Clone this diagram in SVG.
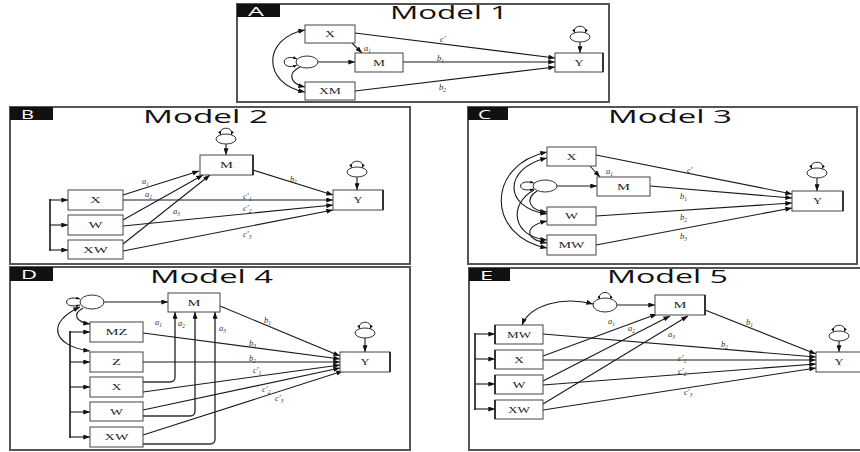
<svg xmlns="http://www.w3.org/2000/svg" width="860" height="452" viewBox="0 0 860 452">
<defs>
<marker id="ah" viewBox="0 0 8 6" refX="8" refY="3" markerWidth="7" markerHeight="5" orient="auto-start-reverse" markerUnits="userSpaceOnUse"><path d="M0,0L8,3L0,6z" fill="#111"/></marker>
<marker id="as" viewBox="0 0 8 6" refX="8" refY="3" markerWidth="4" markerHeight="3" orient="auto-start-reverse" markerUnits="userSpaceOnUse"><path d="M0,0L8,3L0,6z" fill="#111"/></marker>
<style>
.frame{fill:#fff;stroke:#555;stroke-width:2}
.tag{fill:#111}
.tagt{font-family:"Open Sans","Liberation Sans",sans-serif;font-size:13px;fill:#fff}
.title{font-family:"Open Sans","Liberation Sans",sans-serif;font-size:18px;fill:#111}
.bx{fill:#fff;stroke:#444;stroke-width:1}
.edge{stroke:#333;stroke-width:2}
.nm{font-family:"Liberation Serif","DejaVu Serif",serif;font-size:9px;fill:#222;text-anchor:middle}
.pl{font-family:"Liberation Serif","DejaVu Serif",serif;font-style:italic;font-size:8.5px;fill:#333}
.sb{font-size:5.5px}
.ln{fill:none;stroke:#222;stroke-width:1}
.ar{fill:none;stroke:#1a1a1a;stroke-width:1.1;marker-end:url(#ah)}
.dar{fill:none;stroke:#1a1a1a;stroke-width:1.1;marker-start:url(#ah);marker-end:url(#ah)}
.lp{fill:none;stroke:#222;stroke-width:1;marker-start:url(#as);marker-end:url(#as)}
.brk{fill:none;stroke:#444;stroke-width:2}
.ell{fill:#fff;stroke:#333;stroke-width:1}
.va{fill:none;stroke:#333;stroke-width:1.4;marker-end:url(#ah)}
</style>
</defs>
<rect width="860" height="452" fill="#fff"/>

<!-- Panel frames -->
<rect class="frame" x="237" y="4" width="372" height="98"/>
<rect class="frame" x="10" y="107" width="400" height="157"/>
<rect class="frame" x="468" y="107" width="389" height="157"/>
<rect class="frame" x="10" y="267" width="400" height="183"/>
<rect class="frame" x="469" y="268" width="400" height="182"/>

<rect class="tag" x="237" y="4" width="43" height="13"/><text class="tagt" x="248" y="15.5" textLength="16" lengthAdjust="spacingAndGlyphs">A</text>
<rect class="tag" x="10" y="107" width="43" height="13"/><text class="tagt" x="21" y="118.5" textLength="13" lengthAdjust="spacingAndGlyphs">B</text>
<rect class="tag" x="468" y="107" width="40" height="13"/><text class="tagt" x="478" y="118.5" textLength="13" lengthAdjust="spacingAndGlyphs">C</text>
<rect class="tag" x="10" y="267" width="43" height="14"/><text class="tagt" x="21" y="279" textLength="16" lengthAdjust="spacingAndGlyphs">D</text>
<rect class="tag" x="469" y="268" width="41" height="13"/><text class="tagt" x="480" y="279.5" textLength="13" lengthAdjust="spacingAndGlyphs">E</text>

<text class="title" x="390" y="19" textLength="118" lengthAdjust="spacingAndGlyphs">Model 1</text>
<text class="title" x="143" y="123" textLength="125" lengthAdjust="spacingAndGlyphs">Model 2</text>
<text class="title" x="608" y="123" textLength="124" lengthAdjust="spacingAndGlyphs">Model 3</text>
<text class="title" x="150" y="283" textLength="123" lengthAdjust="spacingAndGlyphs">Model 4</text>
<text class="title" x="607" y="283" textLength="121" lengthAdjust="spacingAndGlyphs">Model 5</text>

<!-- Connectors -->
<g id="connectors">
<!-- A -->
<path class="ar" d="M352,43L362,53"/>
<path class="ar" d="M318,62L355,62"/>
<path class="ar" d="M355,33L555,58"/>
<path class="ar" d="M403,62L555,62"/>
<path class="ar" d="M355,91L555,67"/>
<path class="dar" d="M305,30C262,38 262,84 305,92"/>
<path class="ar" d="M300,67C286,74 291,84 305,87"/>
<path class="lp" d="M297,59C280,52 280,72 297,65"/>
<path class="lp" d="M575,33C571,24 589,24 585,33"/>
<path class="ar" d="M580,42L580,53"/>
<!-- B -->
<path class="brk" d="M50,199L50,251"/>
<path class="ar" d="M50,200L68,200"/>
<path class="ar" d="M50,225L68,225"/>
<path class="ar" d="M50,250L68,250"/>
<path class="ar" d="M123,195L199,171"/>
<path class="ar" d="M123,220L203,175"/>
<path class="ar" d="M123,244L210,175"/>
<path class="ar" d="M253,170L333,195"/>
<path class="ar" d="M123,200L333,200"/>
<path class="ar" d="M123,226L333,205"/>
<path class="ar" d="M123,251L333,210"/>
<path class="lp" d="M221,135C217,126 235,126 231,135"/>
<path class="ar" d="M226,144L226,155"/>
<path class="lp" d="M352,168C348,159 366,159 362,168"/>
<path class="ar" d="M357,177L357,190"/>
<!-- C -->
<path class="ar" d="M590,166L600,177"/>
<path class="ar" d="M557,186L597,186"/>
<path class="ar" d="M596,155L792,194"/>
<path class="ar" d="M650,186L792,198"/>
<path class="ar" d="M596,216L792,203"/>
<path class="ar" d="M596,245L792,208"/>
<path class="dar" d="M547,152C486,165 486,236 547,248"/>
<path class="dar" d="M547,158C503,168 503,208 547,214"/>
<path class="dar" d="M547,221C524,226 524,239 547,243"/>
<path class="ar" d="M537,191C524,199 530,211 547,212"/>
<path class="ar" d="M534,190C508,204 512,237 547,240"/>
<path class="lp" d="M534,183C516,178 516,194 534,189"/>
<path class="lp" d="M812,169C808,160 826,160 822,169"/>
<path class="ar" d="M817,178L817,191"/>
<!-- D -->
<path class="brk" d="M70,331L70,438"/>
<path class="ar" d="M70,332L90,332"/>
<path class="ar" d="M70,362L90,362"/>
<path class="ar" d="M70,387L90,387"/>
<path class="ar" d="M70,412L90,412"/>
<path class="ar" d="M70,437L90,437"/>
<path class="ar" d="M104,302L168,302"/>
<path class="va" d="M143,382L170,382Q175,382 175,377L175,312"/>
<path class="va" d="M143,416L190,416Q195,416 195,411L195,312"/>
<path class="va" d="M143,444L210,444Q215,444 215,439L215,312"/>
<path class="ar" d="M220,306L340,356"/>
<path class="ar" d="M143,333L340,359"/>
<path class="ar" d="M143,362L340,362"/>
<path class="ar" d="M143,392L340,365"/>
<path class="ar" d="M143,410L340,368"/>
<path class="ar" d="M143,435L343,371"/>
<path class="ar" d="M83,308C71,315 77,322 90,324"/>
<path class="dar" d="M80,307C46,322 52,346 90,351"/>
<path class="lp" d="M80,299C62,294 62,310 80,305"/>
<path class="lp" d="M360,329C356,320 374,320 370,329"/>
<path class="ar" d="M365,338L365,352"/>
<!-- E -->
<path class="brk" d="M475,333L475,410"/>
<path class="ar" d="M475,334L495,334"/>
<path class="ar" d="M475,359L495,359"/>
<path class="ar" d="M475,384L495,384"/>
<path class="ar" d="M475,409L495,409"/>
<path class="ar" d="M617,305L655,305"/>
<path class="dar" d="M593,304C562,296 530,305 522,325"/>
<path class="ar" d="M543,356L657,314"/>
<path class="ar" d="M543,381L670,316"/>
<path class="ar" d="M543,404L688,316"/>
<path class="ar" d="M705,310L816,354"/>
<path class="ar" d="M543,334L816,357"/>
<path class="ar" d="M543,360L816,360"/>
<path class="ar" d="M543,385L816,364"/>
<path class="ar" d="M543,410L816,368"/>
<path class="lp" d="M600,300C596,290 614,290 610,300"/>
<path class="lp" d="M834,332C830,323 848,323 844,332"/>
<path class="ar" d="M839,341L839,352"/>
</g>

<!-- Path labels -->
<g id="labels">
<text class="pl" x="364" y="51">a<tspan class="sb" dy="2">1</tspan></text>
<text class="pl" x="440" y="42">c′</text>
<text class="pl" x="437" y="61">b<tspan class="sb" dy="2">1</tspan></text>
<text class="pl" x="439" y="90">b<tspan class="sb" dy="2">2</tspan></text>

<text class="pl" x="142" y="184">a<tspan class="sb" dy="2">1</tspan></text>
<text class="pl" x="145" y="197">a<tspan class="sb" dy="2">2</tspan></text>
<text class="pl" x="173" y="214">a<tspan class="sb" dy="2">3</tspan></text>
<text class="pl" x="290" y="182">b<tspan class="sb" dy="2">1</tspan></text>
<text class="pl" x="243" y="199">c′<tspan class="sb" dy="2">1</tspan></text>
<text class="pl" x="243" y="211">c′<tspan class="sb" dy="2">2</tspan></text>
<text class="pl" x="243" y="237">c′<tspan class="sb" dy="2">3</tspan></text>

<text class="pl" x="606" y="174">a<tspan class="sb" dy="2">1</tspan></text>
<text class="pl" x="687" y="173">c′</text>
<text class="pl" x="680" y="199">b<tspan class="sb" dy="2">1</tspan></text>
<text class="pl" x="680" y="220">b<tspan class="sb" dy="2">2</tspan></text>
<text class="pl" x="680" y="239">b<tspan class="sb" dy="2">3</tspan></text>

<text class="pl" x="155" y="325">a<tspan class="sb" dy="2">1</tspan></text>
<text class="pl" x="178" y="326">a<tspan class="sb" dy="2">2</tspan></text>
<text class="pl" x="219" y="331">a<tspan class="sb" dy="2">3</tspan></text>
<text class="pl" x="264" y="323">b<tspan class="sb" dy="2">1</tspan></text>
<text class="pl" x="249" y="346">b<tspan class="sb" dy="2">3</tspan></text>
<text class="pl" x="249" y="361">b<tspan class="sb" dy="2">2</tspan></text>
<text class="pl" x="253" y="373">c′<tspan class="sb" dy="2">1</tspan></text>
<text class="pl" x="262" y="392">c′<tspan class="sb" dy="2">2</tspan></text>
<text class="pl" x="275" y="401">c′<tspan class="sb" dy="2">3</tspan></text>

<text class="pl" x="608" y="324">a<tspan class="sb" dy="2">1</tspan></text>
<text class="pl" x="628" y="331">a<tspan class="sb" dy="2">2</tspan></text>
<text class="pl" x="668" y="337">a<tspan class="sb" dy="2">3</tspan></text>
<text class="pl" x="746" y="325">b<tspan class="sb" dy="2">1</tspan></text>
<text class="pl" x="721" y="347">b<tspan class="sb" dy="2">2</tspan></text>
<text class="pl" x="678" y="361">c′<tspan class="sb" dy="2">1</tspan></text>
<text class="pl" x="678" y="374">c′<tspan class="sb" dy="2">2</tspan></text>
<text class="pl" x="684" y="395">c′<tspan class="sb" dy="2">3</tspan></text>
</g>

<!-- Panel A nodes -->
<g id="A_X"><rect class="bx" x="305" y="25" width="50" height="18"/><text class="nm" x="330" y="37" textLength="10" lengthAdjust="spacingAndGlyphs">X</text></g>
<g id="A_M"><rect class="bx" x="355" y="53" width="48" height="19"/><text class="nm" x="379" y="65.5" textLength="12" lengthAdjust="spacingAndGlyphs">M</text></g>
<g id="A_XM"><rect class="bx" x="305" y="82" width="50" height="18"/><text class="nm" x="330" y="94" textLength="22" lengthAdjust="spacingAndGlyphs">XM</text></g>
<g id="A_Y"><rect class="bx" x="555" y="53" width="48" height="19"/><line class="edge" x1="603" y1="53" x2="603" y2="72"/><text class="nm" x="579" y="65.5" textLength="9" lengthAdjust="spacingAndGlyphs">Y</text></g>
<g id="A_E"><ellipse class="ell" cx="307" cy="62" rx="11" ry="6"/></g>
<g id="A_Ye"><ellipse class="ell" cx="580" cy="37" rx="10" ry="5"/></g>

<!-- Panel B nodes -->
<g id="B_X"><rect class="bx" x="68" y="190" width="55" height="20"/><text class="nm" x="95.5" y="203" textLength="11" lengthAdjust="spacingAndGlyphs">X</text></g>
<g id="B_W"><rect class="bx" x="68" y="215" width="55" height="20"/><text class="nm" x="95.5" y="228" textLength="14" lengthAdjust="spacingAndGlyphs">W</text></g>
<g id="B_XW"><rect class="bx" x="68" y="240" width="55" height="19"/><text class="nm" x="95.5" y="252.5" textLength="25" lengthAdjust="spacingAndGlyphs">XW</text></g>
<g id="B_M"><rect class="bx" x="200" y="155" width="53" height="20"/><line class="edge" x1="253" y1="155" x2="253" y2="175"/><text class="nm" x="226.5" y="168" textLength="13" lengthAdjust="spacingAndGlyphs">M</text></g>
<g id="B_Y"><rect class="bx" x="333" y="190" width="50" height="20"/><line class="edge" x1="383" y1="190" x2="383" y2="210"/><text class="nm" x="358" y="203" textLength="9" lengthAdjust="spacingAndGlyphs">Y</text></g>
<g id="B_Me"><ellipse class="ell" cx="226" cy="139" rx="10" ry="5"/></g>
<g id="B_Ye"><ellipse class="ell" cx="357" cy="172" rx="10" ry="5"/></g>

<!-- Panel C nodes -->
<g id="C_X"><rect class="bx" x="547" y="147" width="49" height="19"/><text class="nm" x="571.5" y="159.5" textLength="10" lengthAdjust="spacingAndGlyphs">X</text></g>
<g id="C_M"><rect class="bx" x="597" y="177" width="53" height="19"/><text class="nm" x="623.5" y="189.5" textLength="13" lengthAdjust="spacingAndGlyphs">M</text></g>
<g id="C_W"><rect class="bx" x="547" y="207" width="49" height="18"/><text class="nm" x="571.5" y="219" textLength="13" lengthAdjust="spacingAndGlyphs">W</text></g>
<g id="C_MW"><rect class="bx" x="547" y="235" width="49" height="20"/><text class="nm" x="571.5" y="248" textLength="26" lengthAdjust="spacingAndGlyphs">MW</text></g>
<g id="C_Y"><rect class="bx" x="792" y="191" width="51" height="20"/><line class="edge" x1="843" y1="191" x2="843" y2="211"/><text class="nm" x="817.5" y="204" textLength="9" lengthAdjust="spacingAndGlyphs">Y</text></g>
<g id="C_E"><ellipse class="ell" cx="545" cy="186" rx="12" ry="6"/></g>
<g id="C_Ye"><ellipse class="ell" cx="817" cy="173" rx="10" ry="5"/></g>

<!-- Panel D nodes -->
<g id="D_M"><rect class="bx" x="168" y="293" width="52" height="19"/><text class="nm" x="194" y="305.5" textLength="13" lengthAdjust="spacingAndGlyphs">M</text></g>
<g id="D_MZ"><rect class="bx" x="90" y="322" width="53" height="20"/><text class="nm" x="116.5" y="335" textLength="22" lengthAdjust="spacingAndGlyphs">MZ</text></g>
<g id="D_Z"><rect class="bx" x="90" y="352" width="53" height="20"/><text class="nm" x="116.5" y="365" textLength="9" lengthAdjust="spacingAndGlyphs">Z</text></g>
<g id="D_X"><rect class="bx" x="90" y="377" width="53" height="20"/><text class="nm" x="116.5" y="390" textLength="10" lengthAdjust="spacingAndGlyphs">X</text></g>
<g id="D_W"><rect class="bx" x="90" y="402" width="53" height="19"/><text class="nm" x="116.5" y="414.5" textLength="13" lengthAdjust="spacingAndGlyphs">W</text></g>
<g id="D_XW"><rect class="bx" x="90" y="427" width="53" height="20"/><text class="nm" x="116.5" y="440" textLength="24" lengthAdjust="spacingAndGlyphs">XW</text></g>
<g id="D_Y"><rect class="bx" x="340" y="352" width="50" height="20"/><line class="edge" x1="390" y1="352" x2="390" y2="372"/><text class="nm" x="365" y="365" textLength="9" lengthAdjust="spacingAndGlyphs">Y</text></g>
<g id="D_E"><ellipse class="ell" cx="92" cy="302" rx="12" ry="7"/></g>
<g id="D_Ye"><ellipse class="ell" cx="365" cy="333" rx="10" ry="5"/></g>

<!-- Panel E nodes -->
<g id="E_M"><rect class="bx" x="655" y="295" width="50" height="20"/><line class="edge" x1="705" y1="295" x2="705" y2="315"/><text class="nm" x="680" y="308" textLength="13" lengthAdjust="spacingAndGlyphs">M</text></g>
<g id="E_MW"><rect class="bx" x="495" y="325" width="48" height="19"/><line class="edge" x1="495" y1="325" x2="495" y2="344"/><text class="nm" x="519" y="337.5" textLength="24" lengthAdjust="spacingAndGlyphs">MW</text></g>
<g id="E_X"><rect class="bx" x="495" y="350" width="48" height="19"/><line class="edge" x1="495" y1="350" x2="495" y2="369"/><text class="nm" x="519" y="362.5" textLength="10" lengthAdjust="spacingAndGlyphs">X</text></g>
<g id="E_W"><rect class="bx" x="495" y="375" width="48" height="19"/><line class="edge" x1="495" y1="375" x2="495" y2="394"/><text class="nm" x="519" y="387.5" textLength="13" lengthAdjust="spacingAndGlyphs">W</text></g>
<g id="E_XW"><rect class="bx" x="495" y="400" width="48" height="19"/><line class="edge" x1="495" y1="400" x2="495" y2="419"/><text class="nm" x="519" y="412.5" textLength="22" lengthAdjust="spacingAndGlyphs">XW</text></g>
<g id="E_Y"><rect class="bx" x="816" y="352" width="50" height="20"/><text class="nm" x="839" y="365" textLength="9" lengthAdjust="spacingAndGlyphs">Y</text></g>
<g id="E_E"><ellipse class="ell" cx="605" cy="305" rx="12" ry="7"/></g>
<g id="E_Ye"><ellipse class="ell" cx="839" cy="336" rx="10" ry="5"/></g>
</svg>
